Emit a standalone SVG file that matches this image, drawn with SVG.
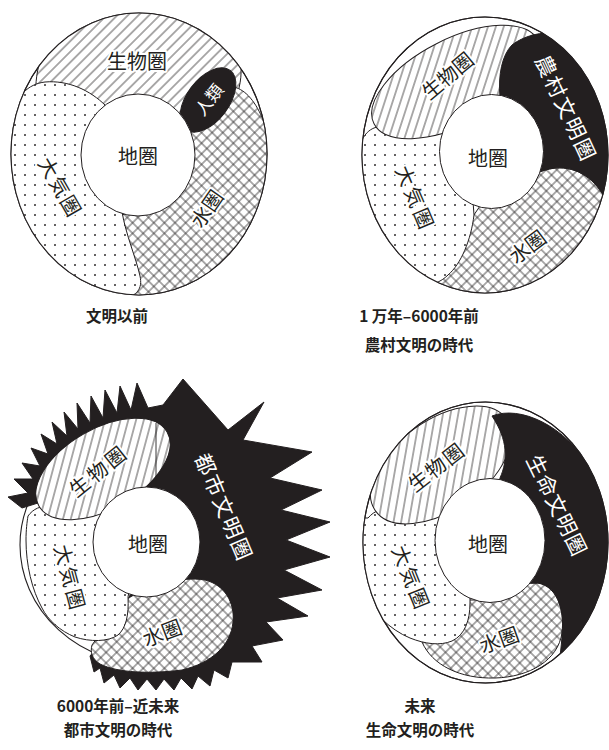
<svg xmlns="http://www.w3.org/2000/svg" width="609" height="750" viewBox="0 0 609 750">
<defs>
<style>
.bg{fill:#fff;stroke:#231f20;stroke-width:1.1}
.outer{fill:none;stroke:#231f20;stroke-width:1.1}
.hatch{fill:url(#hatch);stroke:#231f20;stroke-width:1}
.dots{fill:url(#dots);stroke:#231f20;stroke-width:1}
.cross{fill:url(#cross);stroke:#231f20;stroke-width:1}
.blk{fill:#231f20;stroke:#231f20;stroke-width:1}
.earth{fill:#fff;stroke:#231f20;stroke-width:1}
.lbl{font-family:"Noto Sans CJK JP","Noto Sans CJK SC",sans-serif;font-size:20px;fill:#231f20;text-anchor:middle;dominant-baseline:central;stroke:#fff;stroke-width:4px;paint-order:stroke;stroke-linejoin:round}
.wl{font-family:"Noto Sans CJK JP","Noto Sans CJK SC",sans-serif;font-size:21px;fill:#fff;text-anchor:middle;dominant-baseline:central;letter-spacing:2px}
.cap{font-family:"Noto Sans CJK JP","Noto Sans CJK SC",sans-serif;font-size:15.5px;font-weight:700;fill:#231f20;text-anchor:middle;dominant-baseline:central}
</style>
<pattern id="hatch" patternUnits="userSpaceOnUse" width="7.5" height="7.5" patternTransform="rotate(45)">
<rect width="7.5" height="7.5" fill="#fff"/><line x1="3.75" y1="-1" x2="3.75" y2="9" stroke="#231f20" stroke-width="0.75"/>
</pattern>
<pattern id="cross" patternUnits="userSpaceOnUse" width="7.5" height="7.5" patternTransform="rotate(45)">
<rect width="7.5" height="7.5" fill="#fff"/><path d="M3.75,-1V9M-1,3.75H9" stroke="#231f20" stroke-width="0.75"/>
</pattern>
<pattern id="dots" patternUnits="userSpaceOnUse" width="10" height="10">
<rect width="10" height="10" fill="#fff"/><circle cx="5" cy="5" r="0.95" fill="#231f20"/>
</pattern>
<clipPath id="c1"><ellipse cx="139" cy="154" rx="128" ry="141"/></clipPath>
<clipPath id="c2"><ellipse cx="485" cy="155" rx="123" ry="138"/></clipPath>
<clipPath id="c4"><ellipse cx="485.5" cy="542.5" rx="122.5" ry="140.5"/></clipPath>
</defs>

<!-- Diagram 1: before civilization -->
<g id="d1">
<ellipse class="bg" cx="139" cy="154" rx="128" ry="141"/>
<g clip-path="url(#c1)">
<g id="d1-bio"><path class="hatch" d="M37,108 C33,80 38,50 60,28 L110,0 L205,0 C236,25 246,60 239,88 C234,108 216,124 196,134 L140,150 L60,130 Z"/></g>
<g id="d1-water"><path class="cross" d="M290,122 L264,122 C256,102 246,90 234,87 C214,93 198,112 188,138 L150,200 L110,222 L110,310 L290,310 Z"/></g>
<g id="d1-atmo"><path class="dots" d="M10,118 C16,96 28,84 45,82 C68,80 90,90 106,106 L125,160 L122,212 C126,235 136,258 140,276 C143,289 136,296 125,298 L0,300 L0,118 Z"/></g>
<g id="d1-human"><ellipse class="blk" cx="208" cy="100" rx="37" ry="21" transform="rotate(-53 208 100)"/></g>
</g>
<g id="d1-earth"><ellipse class="earth" cx="138" cy="155" rx="57" ry="61"/></g>
<ellipse class="outer" cx="139" cy="154" rx="128" ry="141"/>
<text class="lbl" x="137" y="60">生物圏</text>
<text class="wl" style="font-size:17px;letter-spacing:0" transform="translate(208,99) rotate(-52)">人類</text>
<text class="lbl" x="138" y="155">地圏</text>
<text class="lbl" style="letter-spacing:2px" transform="translate(61,187) rotate(60)">大気圏</text>
<text class="lbl" transform="translate(206,208) rotate(-55)">水圏</text>
<text class="cap" x="117" y="315">文明以前</text>
</g>

<!-- Diagram 2: agricultural civilization -->
<g id="d2">
<ellipse class="bg" cx="485" cy="155" rx="123" ry="138"/>
<g clip-path="url(#c2)">
<g id="d2-water"><path class="cross" d="M480,206 C505,195 525,172 555,168 C578,166 596,180 606,200 L640,320 L400,320 L440,265 Z"/></g>
<g id="d2-atmo"><path class="dots" d="M362,140 C368,128 378,124 392,128 L440,120 L470,160 L474,215 C471,240 461,264 448,275 C441,282 431,286 420,286 L340,300 L340,140 Z"/></g>
<g id="d2-bio"><ellipse class="hatch" cx="456" cy="82" rx="92" ry="43" transform="rotate(-27 456 82)"/></g>
<g id="d2-agri"><path class="blk" d="M500,97 C498,75 502,55 512,45 C525,35 545,30 565,35 C600,50 620,90 620,140 C620,170 615,190 606,200 C596,180 578,166 555,168 C525,172 505,195 480,206 Z"/></g>
</g>
<g id="d2-earth"><ellipse class="earth" cx="491.5" cy="151.5" rx="52" ry="57"/></g>
<ellipse class="outer" cx="485" cy="155" rx="123" ry="138"/>
<text class="lbl" transform="translate(447,75) rotate(-40)">生物圏</text>
<text class="wl" transform="translate(567,108) rotate(65)">農村文明圏</text>
<text class="lbl" x="488" y="157">地圏</text>
<text class="lbl" style="letter-spacing:3px" transform="translate(416,198) rotate(67)">大気圏</text>
<text class="lbl" transform="translate(527,246) rotate(-37)">水圏</text>
<text class="cap" x="419" y="315">1 万年–6000年前</text>
<text class="cap" x="419" y="344">農村文明の時代</text>
</g>

<!-- Diagram 3: urban civilization -->
<g id="d3">
<ellipse class="bg" cx="152" cy="545" rx="132" ry="120"/>
<g id="d3-urban"><path class="blk" d="M22,508 L8,497 L28,493 L14,479 L33,479 L22,463 L40,466 L31,448 L48,454 L41,434 L57,444 L52,422 L67,436 L64,412 L78,429 L77,403 L90,423 L91,396 L103,418 L105,390 L117,413 L120,386 L131,410 L137,383 L148,408 L163,405 L183,379 L228,430 L264,402 L243,440 L312,452 L270,478 L322,490 L281,510 L330,522 L286,540 L330,557 L284,570 L322,590 L277,598 L308,616 L266,622 L283,640 L252,646 L262,662 L232,662 L228,678 L214,670 L210,686 L198,676 L192,689 L181,678 L174,690 L164,679 L156,690 L147,679 L138,690 L130,678 L120,688 L114,675 L104,683 L100,668 L94,672 L90,656 L120,620 L150,545 L70,480 L38,503 Z"/></g>
<g id="d3-water"><path class="cross" d="M125,600 C150,585 180,576 205,580 C225,585 235,603 233,622 C231,645 212,663 182,670 C150,674 118,673 100,664 C92,659 90,652 92,645 L110,620 Z"/></g>
<g id="d3-atmo"><path class="dots" d="M28,516 C33,509 41,505 50,507 L110,505 L135,560 L128,597 C129,615 126,628 118,635 C108,642 90,642 75,637 C60,631 48,620 42,608 C32,590 26,565 26,540 C26,530 27,522 28,516 Z"/></g>
<g id="d3-bio"><ellipse class="hatch" cx="103" cy="469" rx="74" ry="40" transform="rotate(-30 103 469)"/><line x1="156" y1="423" x2="156" y2="490" stroke="#231f20" stroke-width="0.9"/></g>
<g id="d3-earth"><ellipse class="earth" cx="146.5" cy="542" rx="53.5" ry="55"/></g>
<text class="lbl" style="letter-spacing:3px" transform="translate(98,470) rotate(-39)">生物圏</text>
<text class="wl" transform="translate(225,507) rotate(67)">都市文明圏</text>
<text class="lbl" x="148" y="543">地圏</text>
<text class="lbl" style="letter-spacing:3px" transform="translate(71,578) rotate(75)">大気圏</text>
<text class="lbl" transform="translate(162,632) rotate(-21)">水圏</text>
<text class="cap" x="118" y="705">6000年前–近未来</text>
<text class="cap" x="118" y="729">都市文明の時代</text>
</g>

<!-- Diagram 4: life civilization -->
<g id="d4">
<ellipse class="bg" cx="485.5" cy="542.5" rx="122.5" ry="140.5"/>
<g clip-path="url(#c4)">
<g id="d4-water"><path class="cross" d="M478,600 C500,592 518,582 538,583 C556,586 565,608 562,633 C558,660 530,677 495,678 C460,679 432,665 422,642 L440,600 Z"/></g>
<g id="d4-atmo"><path class="dots" d="M368,518 C375,510 382,508 392,512 L440,500 L470,560 L470,603 C470,620 465,635 452,641 C440,646 425,644 410,638 C390,630 370,610 360,590 L340,590 L340,518 Z"/></g>
<g id="d4-bio"><ellipse class="hatch" cx="441" cy="465" rx="80" ry="45" transform="rotate(-35 441 465)"/></g>
<g id="d4-life"><path class="blk" d="M492,416 C520,405 565,425 592,470 C617,515 620,590 597,632 C588,648 572,658 560,656 C561,648 562,640 562,633 C565,608 556,586 538,583 C518,582 500,592 478,600 L500,478 C508,460 508,440 492,416 Z"/></g>
</g>
<g id="d4-earth"><ellipse class="earth" cx="490" cy="540.5" rx="55" ry="62"/></g>
<ellipse class="outer" cx="485.5" cy="542.5" rx="122.5" ry="140.5"/>
<text class="lbl" style="letter-spacing:2px" transform="translate(436,466) rotate(-38)">生物圏</text>
<text class="wl" style="letter-spacing:1px" transform="translate(558,505) rotate(64)">生命文明圏</text>
<text class="lbl" x="488" y="543">地圏</text>
<text class="lbl" style="letter-spacing:3px" transform="translate(412,578) rotate(68)">大気圏</text>
<text class="lbl" transform="translate(499,639) rotate(-20)">水圏</text>
<text class="cap" x="420" y="705">未来</text>
<text class="cap" x="420" y="729">生命文明の時代</text>
</g>
</svg>
